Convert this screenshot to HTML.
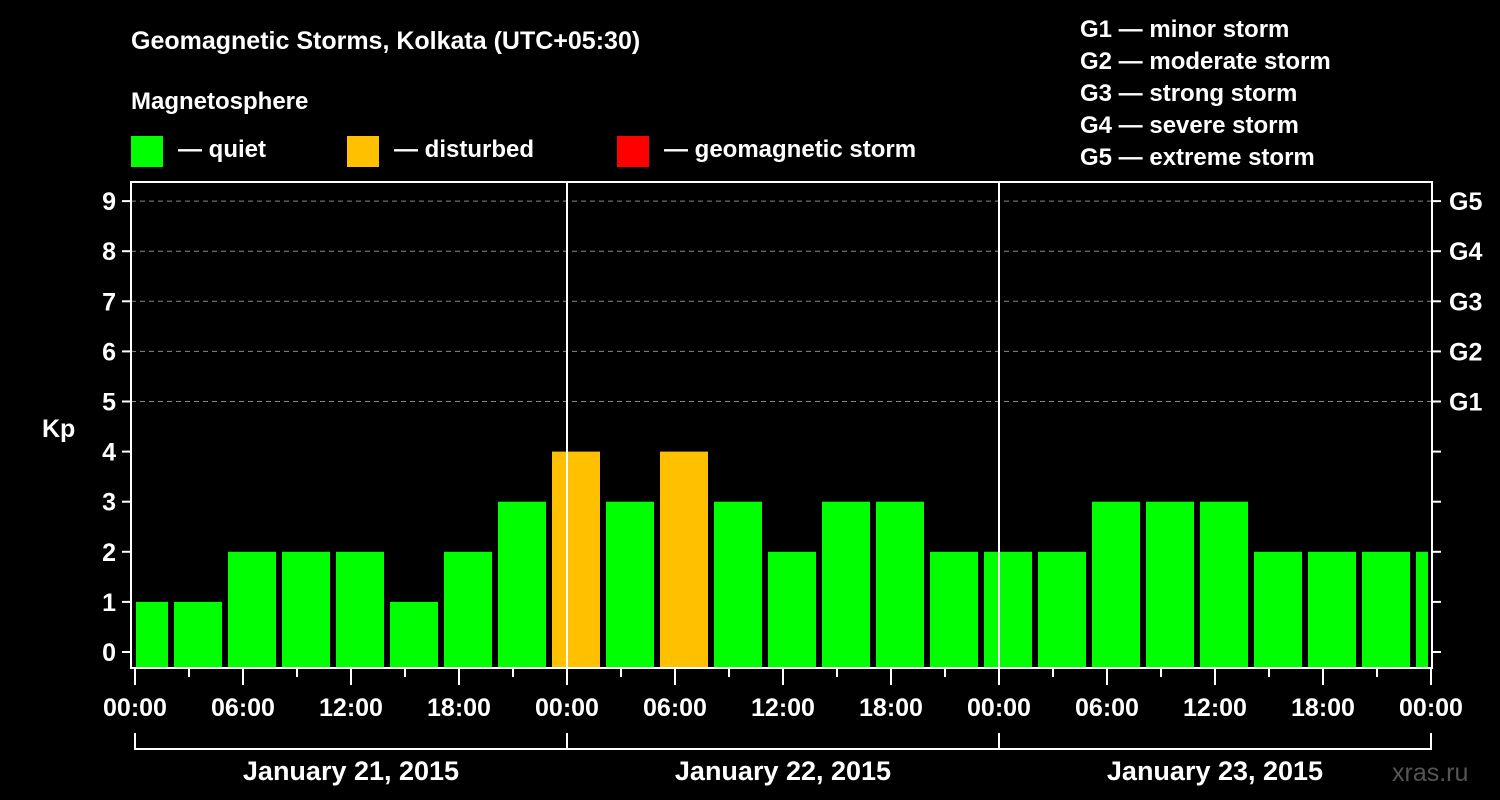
<!DOCTYPE html>
<html><head><meta charset="utf-8"><style>
html,body{margin:0;padding:0;background:#000;}
svg{display:block;font-family:"Liberation Sans",Arial,sans-serif;font-weight:bold;}
</style></head><body>
<svg id="chart" width="1500" height="800" viewBox="0 0 1500 800">
<rect width="1500" height="800" fill="#000"/>
<text x="131" y="49" fill="#fff" font-size="25">Geomagnetic Storms, Kolkata (UTC+05:30)</text>
<text x="131" y="109" fill="#fff" font-size="24">Magnetosphere</text>
<g><rect x="131" y="136" width="32" height="31" fill="#00ff00"/><text x="178" y="157" fill="#fff" font-size="24">— quiet</text></g>
<g><rect x="347" y="136" width="32" height="31" fill="#ffc000"/><text x="394" y="157" fill="#fff" font-size="24">— disturbed</text></g>
<g><rect x="617" y="136" width="32" height="31" fill="#ff0000"/><text x="664" y="157" fill="#fff" font-size="24">— geomagnetic storm</text></g>
<g fill="#fff" font-size="24">
<text x="1080" y="37">G1 — minor storm</text>
<text x="1080" y="69">G2 — moderate storm</text>
<text x="1080" y="101">G3 — strong storm</text>
<text x="1080" y="133">G4 — severe storm</text>
<text x="1080" y="165">G5 — extreme storm</text>
</g>
<text x="42" y="437" fill="#fff" font-size="25">Kp</text>
<text x="1392" y="781" fill="#555" font-size="25" font-weight="normal">xras.ru</text>
<g id="grid"></g><g id="bars"></g><g id="axes"></g>
</svg>
<script>
const kpValues=[1,1,2,2,2,1,2,3,4,3,4,3,2,3,3,2,2,2,3,3,3,2,2,2,2];
const slotStartHours=[-1,2,5,8,11,14,17,20,23,26,29,32,35,38,41,44,47,50,53,56,59,62,65,68,71];
const yTicks=[0,1,2,3,4,5,6,7,8,9];
const gLabels=["G1","G2","G3","G4","G5"];
const gLevels=[5,6,7,8,9];
const xLabels=["00:00","06:00","12:00","18:00","00:00","06:00","12:00","18:00","00:00","06:00","12:00","18:00","00:00"];
const dayLabels=["January 21, 2015","January 22, 2015","January 23, 2015"];
const NS="http://www.w3.org/2000/svg";
const X0=135,PXH=18,Y0=652,PXU=50.1,LEFT=131,RIGHT=1432,TOP=182,BOT=668;
const x=h=>X0+h*PXH, y=v=>Y0-v*PXU;
function mk(tag,attrs,parent,txt){const e=document.createElementNS(NS,tag);for(const k in attrs)e.setAttribute(k,attrs[k]);if(txt!==undefined)e.textContent=txt;document.getElementById(parent).appendChild(e);return e;}
yTicks.forEach(v=>{
 if(v>0&&v>=5){const l=mk('line',{x1:LEFT,x2:RIGHT,y1:y(v),y2:y(v),stroke:'#888','stroke-dasharray':'5,4','stroke-width':1},'grid');
 
 }
 const t=mk('line',{x1:122,x2:LEFT,y1:y(v),y2:y(v),stroke:'#fff','stroke-width':2},'axes');
 
 
 const r=mk('line',{x1:RIGHT,x2:1441,y1:y(v),y2:y(v),stroke:'#fff','stroke-width':2},'axes');
 
 
 const lb=mk('text',{x:116,y:y(v)+9,fill:'#fff','font-size':25,'text-anchor':'end'},'axes',String(v));
 
 
});
gLevels.forEach((v,i)=>{
 const lb=mk('text',{x:1449,y:y(v)+9,fill:'#fff','font-size':25},'axes',gLabels[i]);
 
 
});
kpValues.forEach((v,i)=>{
 let a=x(slotStartHours[i])+3,b=x(slotStartHours[i]+3)-3;
 a=Math.max(a,136);b=Math.min(b,1428);
 const col=v>=5?'#ff0000':(v>=4?'#ffc000':'#00ff00');
 const r=mk('rect',{x:a,y:y(v),width:b-a,height:BOT-y(v),fill:col},'bars');
 
 
});
[24,48].forEach(h=>{const l=mk('line',{x1:x(h),x2:x(h),y1:TOP,y2:BOT,stroke:'#fff','stroke-width':2},'axes');
 
 });
const fr=mk('rect',{x:LEFT,y:TOP,width:RIGHT-LEFT,height:BOT-TOP,fill:'none',stroke:'#fff','stroke-width':2},'axes');


for(let h=0;h<=72;h+=3){const long=h%6===0;
 const t=mk('line',{x1:x(h),x2:x(h),y1:BOT,y2:long?685:677,stroke:'#fff','stroke-width':2},'axes');
 
 }
xLabels.forEach((s,i)=>{const t=mk('text',{x:x(i*6),y:716,fill:'#fff','font-size':25,'text-anchor':'middle'},'axes',s);
 
 });
mk('path',{d:`M${x(0)} 733V749H${x(72)}V733M${x(24)} 733V749M${x(48)} 733V749`,stroke:'#fff','stroke-width':2,fill:'none'},'axes');
dayLabels.forEach((s,i)=>{const t=mk('text',{x:x(i*24+12),y:780,fill:'#fff','font-size':27,'text-anchor':'middle'},'axes',s);
 
 });
</script>
</body></html>
